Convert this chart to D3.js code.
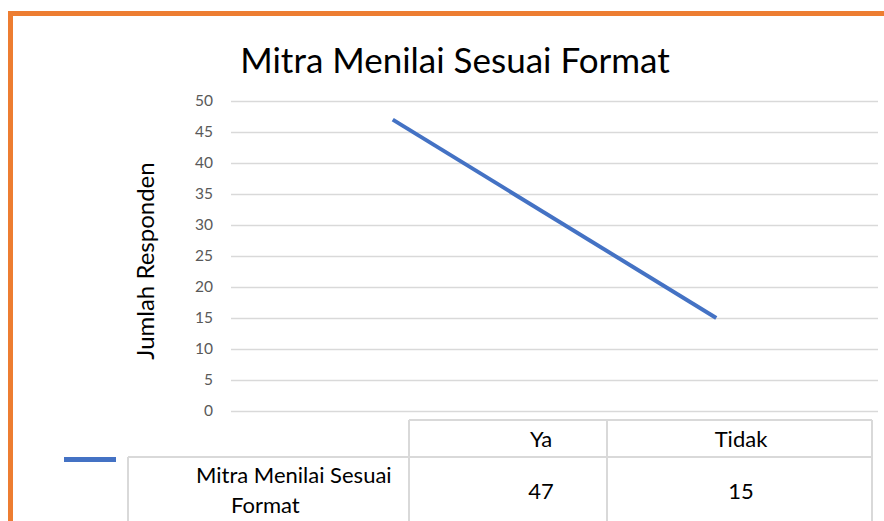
<!DOCTYPE html>
<html>
<head>
<meta charset="utf-8">
<script src="https://cdn.jsdelivr.net/npm/d3@7"></script>
<style>
  body { margin: 0; background: #fff; }
  svg { display: block; font-family: Lato, "Open Sans", sans-serif; }
</style>
</head>
<body>
<div class="chart"></div>
<script>
const categories = ["Ya", "Tidak"];
const seriesName = "Mitra Menilai Sesuai Format";
const values = [47, 15];
const yTicks = [0, 5, 10, 15, 20, 25, 30, 35, 40, 45, 50];

const width = 884, height = 521;
const margin = ({top: 101, right: 6, bottom: 110, left: 231});

const svg = d3.select(".chart").append("svg")
  .attr("width", width).attr("height", height);

// orange frame (top + left edge)
svg.append("rect").attr("x", 8).attr("y", 11).attr("width", width).attr("height", 5).attr("fill", "#ED7D31");
svg.append("rect").attr("x", 8).attr("y", 11).attr("width", 5).attr("height", height).attr("fill", "#ED7D31");

let xScale = d3.scaleBand().domain(categories).range([margin.left, width - margin.right]);
let yScale = d3.scaleLinear().domain([0, 50]).range([height - margin.bottom, margin.top]);

// gridlines + y labels
const yAxis = d3.axisLeft(yScale).tickValues(yTicks).tickSize(-(width - margin.right - margin.left)).tickPadding(18);
const gy = svg.append("g").attr("class", "axis y-axis")
  .attr("transform", `translate(${margin.left},0)`)
  .call(yAxis);
gy.select(".domain").remove();
gy.selectAll(".tick line").attr("stroke", "#d9d9d9").attr("stroke-width", 1.3);
gy.selectAll(".tick text").attr("fill", "#595959").attr("font-size", 15.5)
  .attr("font-family", "Lato, sans-serif");

svg.append("text").attr("x", 455).attr("y", 73).attr("text-anchor", "middle")
  .attr("font-size", 35).attr("fill", "#000").text(seriesName);

svg.append("text").attr("transform", "translate(154,261) rotate(-90)")
  .attr("text-anchor", "middle").attr("font-size", 24).attr("fill", "#000")
  .text("Jumlah Responden");

// the line
const line = d3.line()
  .x((d, i) => xScale(categories[i]) + xScale.bandwidth() / 2)
  .y(d => yScale(d));
svg.append("path").datum(values)
  .attr("d", line).attr("fill", "none")
  .attr("stroke", "#4472C4").attr("stroke-width", 4);

// data table under the chart
const tbl = svg.append("g").attr("stroke", "#d9d9d9").attr("stroke-width", 2).attr("fill", "none");
const colX = [128, 409, 607, 872];
const rowY = [420, 457, 530];
tbl.append("line").attr("x1", colX[1]).attr("x2", colX[3]).attr("y1", rowY[0]).attr("y2", rowY[0]);
tbl.append("line").attr("x1", colX[0]).attr("x2", colX[3]).attr("y1", rowY[1]).attr("y2", rowY[1]);
tbl.append("line").attr("x1", colX[0]).attr("x2", colX[0]).attr("y1", rowY[1]).attr("y2", rowY[2]);
[1, 2, 3].forEach(i => tbl.append("line").attr("x1", colX[i]).attr("x2", colX[i]).attr("y1", rowY[0]).attr("y2", rowY[2]));

const cellCx = [541, 741];
svg.selectAll(".hdr").data(categories).enter().append("text")
  .attr("class", "hdr").attr("x", (d, i) => cellCx[i]).attr("y", 447)
  .attr("text-anchor", "middle").attr("font-size", 22).attr("fill", "#000").text(d => d);
svg.selectAll(".val").data(values).enter().append("text")
  .attr("class", "val").attr("x", (d, i) => cellCx[i]).attr("y", 499)
  .attr("text-anchor", "middle").attr("font-size", 22).attr("fill", "#000").text(d => d);

// legend key + row label
svg.append("rect").attr("x", 64).attr("y", 457).attr("width", 52).attr("height", 5).attr("fill", "#4472C4");
svg.append("text").attr("x", 196).attr("y", 483).attr("font-size", 22).attr("fill", "#000").text("Mitra Menilai Sesuai");
svg.append("text").attr("x", 231).attr("y", 513).attr("font-size", 22).attr("fill", "#000").text("Format");
</script>
</body>
</html>
